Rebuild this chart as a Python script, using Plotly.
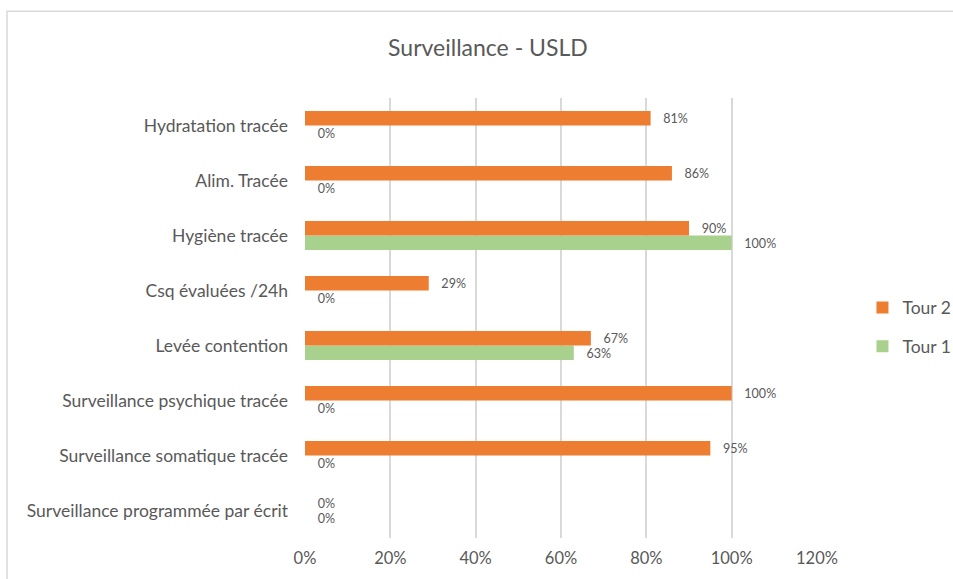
import plotly.graph_objects as go

categories = [
    "Surveillance programmée par écrit",
    "Surveillance somatique tracée",
    "Surveillance psychique tracée",
    "Levée contention",
    "Csq évaluées /24h",
    "Hygiène tracée",
    "Alim. Tracée",
    "Hydratation tracée",
]
tour1 = [0.0, 0.0, 0.0, 0.63, 0.0, 1.00, 0.0, 0.0]
tour2 = [0.0, 0.95, 1.00, 0.67, 0.29, 0.90, 0.86, 0.81]
tick_vals = [0, 0.2, 0.4, 0.6, 0.8, 1.0, 1.2]
tick_text = ["0%", "20%", "40%", "60%", "80%", "100%", "120%"]

FONT = "Lato, 'Open Sans', sans-serif"
TXT = "#595959"
pad = "\u00a0\u00a0\u00a0"

fig = go.Figure()
fig.add_trace(go.Bar(
    name="Tour 1", y=categories, x=tour1, orientation="h",
    legendgroup="t1", legendrank=2,
    marker=dict(color="#a9d18e", line=dict(width=0)),
    texttemplate=pad + "%{x:.0%}", textposition="outside",
    textfont=dict(size=15.5, color=TXT, family=FONT), cliponaxis=False,
))
fig.add_trace(go.Bar(
    name="Tour 2", y=categories, x=tour2, orientation="h",
    legendgroup="t2", legendrank=1,
    marker=dict(color="#ed7d31", line=dict(width=0)),
    texttemplate=pad + "%{x:.0%}", textposition="outside",
    textfont=dict(size=15.5, color=TXT, family=FONT), cliponaxis=False,
))

fig.update_layout(
    width=953, height=579,
    margin=dict(l=305, r=136, t=98, b=41, autoexpand=False),
    paper_bgcolor="white", plot_bgcolor="white",
    barmode="group", bargap=0.47, bargroupgap=0,
    font=dict(family=FONT, color=TXT, size=17),
    title=dict(text="Surveillance - USLD", x=0.512, xanchor="center",
               y=0.917, yanchor="middle",
               font=dict(size=23, color=TXT, family=FONT)),
    legend=dict(xref="container", yref="container", x=0.905, y=0.435,
                xanchor="left", yanchor="middle",
                traceorder="grouped", font=dict(size=17.5, color=TXT),
                tracegroupgap=13, itemwidth=30),
    xaxis=dict(range=[0, 1.2], tickvals=tick_vals, ticktext=tick_text,
               showgrid=True, gridcolor="#d9d9d9", gridwidth=1.5,
               zeroline=False, showline=False, ticks="", automargin=False,
               tickfont=dict(size=16.5, color=TXT), ticklabelstandoff=8),
    yaxis=dict(showgrid=False, showline=False, zeroline=False, ticks="",
               automargin=False,
               tickfont=dict(size=17.5, color=TXT), ticklabelstandoff=16),
    shapes=[dict(type="rect", xref="paper", yref="paper",
                 x0=-0.582, x1=1.3, y0=-0.2, y1=1.197,
                 line=dict(color="#d9d9d9", width=1.5), layer="below")],
)

fig.write_html("out.html", config={"displayModeBar": False},
               post_script="document.body.style.margin='0';")
